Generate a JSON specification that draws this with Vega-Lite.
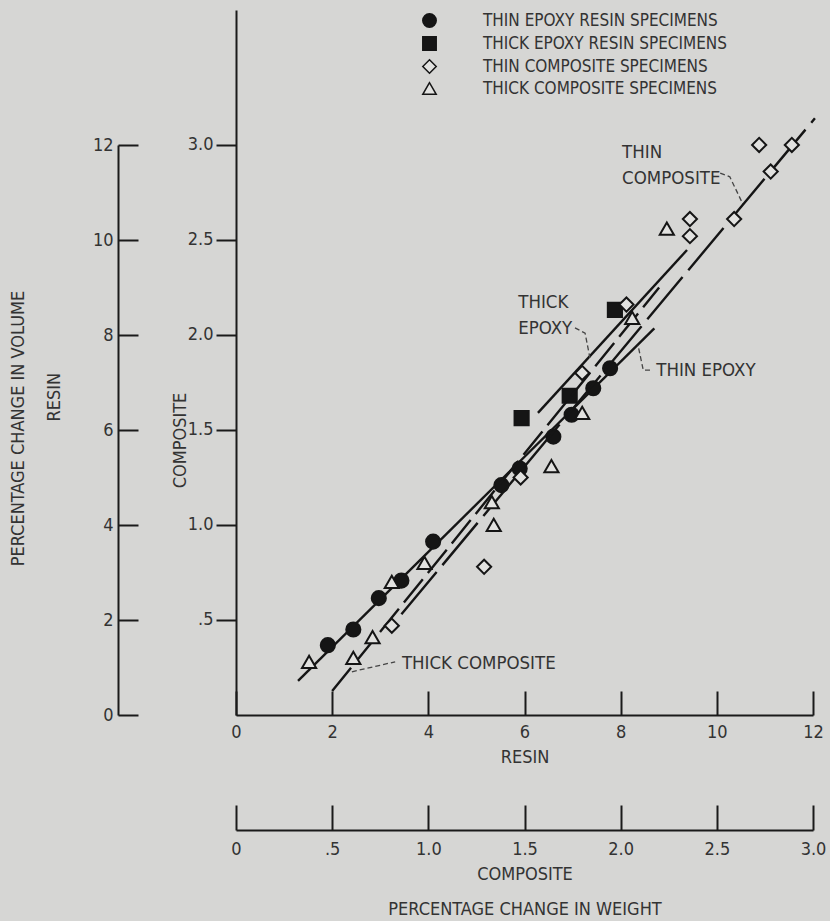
{
  "$schema": "https://vega.github.io/schema/vega-lite/v6.json",
  "width": 577,
  "height": 705,
  "autosize": {"type": "none"},
  "padding": {"left": 236, "top": 10, "right": 17, "bottom": 206},
  "background": "#d6d6d4",
  "config": {
    "font": "Liberation Sans Narrow, DejaVu Sans Condensed, sans-serif",
    "view": {"stroke": null},
    "axis": {
      "domainColor": "#1a1a1a", "domainWidth": 2, "tickColor": "#1a1a1a", "tickWidth": 2,
      "labelColor": "#333333", "titleColor": "#333333", "labelFontSize": 18, "titleFontSize": 18,
      "titleFontWeight": "normal", "grid": false, "labelOverlap": false, "labelFlush": false, "labelBound": false
    },
    "legend": {
      "labelFontSize": 17, "labelColor": "#333333", "symbolSize": 180, "labelOffset": 45,
      "rowPadding": 2, "padding": 0, "labelLimit": 400
    }
  },
  "datasets": {
    "resin": [
      {"series": "THIN EPOXY RESIN SPECIMENS", "x": 1.91, "y": 1.47},
      {"series": "THIN EPOXY RESIN SPECIMENS", "x": 2.44, "y": 1.80},
      {"series": "THIN EPOXY RESIN SPECIMENS", "x": 2.97, "y": 2.46},
      {"series": "THIN EPOXY RESIN SPECIMENS", "x": 3.44, "y": 2.83},
      {"series": "THIN EPOXY RESIN SPECIMENS", "x": 4.10, "y": 3.65},
      {"series": "THIN EPOXY RESIN SPECIMENS", "x": 5.52, "y": 4.84},
      {"series": "THIN EPOXY RESIN SPECIMENS", "x": 5.90, "y": 5.19},
      {"series": "THIN EPOXY RESIN SPECIMENS", "x": 6.60, "y": 5.86},
      {"series": "THIN EPOXY RESIN SPECIMENS", "x": 6.98, "y": 6.32},
      {"series": "THIN EPOXY RESIN SPECIMENS", "x": 7.43, "y": 6.88},
      {"series": "THIN EPOXY RESIN SPECIMENS", "x": 7.78, "y": 7.30},
      {"series": "THICK EPOXY RESIN SPECIMENS", "x": 5.94, "y": 6.25},
      {"series": "THICK EPOXY RESIN SPECIMENS", "x": 6.94, "y": 6.72},
      {"series": "THICK EPOXY RESIN SPECIMENS", "x": 7.88, "y": 8.53}
    ],
    "comp": [
      {"series": "THIN COMPOSITE SPECIMENS", "x": 0.81, "y": 0.47},
      {"series": "THIN COMPOSITE SPECIMENS", "x": 1.29, "y": 0.78},
      {"series": "THIN COMPOSITE SPECIMENS", "x": 1.48, "y": 1.25},
      {"series": "THIN COMPOSITE SPECIMENS", "x": 1.80, "y": 1.80},
      {"series": "THIN COMPOSITE SPECIMENS", "x": 2.03, "y": 2.16},
      {"series": "THIN COMPOSITE SPECIMENS", "x": 2.36, "y": 2.61},
      {"series": "THIN COMPOSITE SPECIMENS", "x": 2.36, "y": 2.52},
      {"series": "THIN COMPOSITE SPECIMENS", "x": 2.59, "y": 2.61},
      {"series": "THIN COMPOSITE SPECIMENS", "x": 2.72, "y": 3.00},
      {"series": "THIN COMPOSITE SPECIMENS", "x": 2.78, "y": 2.86},
      {"series": "THIN COMPOSITE SPECIMENS", "x": 2.89, "y": 3.00},
      {"series": "THICK COMPOSITE SPECIMENS", "x": 0.38, "y": 0.28},
      {"series": "THICK COMPOSITE SPECIMENS", "x": 0.61, "y": 0.30},
      {"series": "THICK COMPOSITE SPECIMENS", "x": 0.71, "y": 0.41},
      {"series": "THICK COMPOSITE SPECIMENS", "x": 0.81, "y": 0.70},
      {"series": "THICK COMPOSITE SPECIMENS", "x": 0.98, "y": 0.80},
      {"series": "THICK COMPOSITE SPECIMENS", "x": 1.33, "y": 1.12},
      {"series": "THICK COMPOSITE SPECIMENS", "x": 1.34, "y": 1.00},
      {"series": "THICK COMPOSITE SPECIMENS", "x": 1.64, "y": 1.31},
      {"series": "THICK COMPOSITE SPECIMENS", "x": 1.80, "y": 1.59},
      {"series": "THICK COMPOSITE SPECIMENS", "x": 2.06, "y": 2.09},
      {"series": "THICK COMPOSITE SPECIMENS", "x": 2.24, "y": 2.56}
    ],
    "resinLines": [
      {"line": "thin epoxy", "x": 1.29, "y": 0.72},
      {"line": "thin epoxy", "x": 8.70, "y": 8.14},
      {"line": "thick epoxy", "x": 6.28, "y": 6.36},
      {"line": "thick epoxy", "x": 9.38, "y": 9.79}
    ],
    "compThin": [
      {"x": 0.86, "y": 0.53},
      {"x": 3.01, "y": 3.14}
    ],
    "compThick": [
      {"x": 0.50, "y": 0.126},
      {"x": 2.20, "y": 2.25}
    ],
    "labels": [
      {"text": "THIN", "x": 8.03, "y": 11.85},
      {"text": "COMPOSITE", "x": 8.03, "y": 11.31},
      {"text": "THICK", "x": 5.87, "y": 8.69},
      {"text": "EPOXY", "x": 5.87, "y": 8.15},
      {"text": "THIN EPOXY", "x": 8.74, "y": 7.26},
      {"text": "THICK COMPOSITE", "x": 3.45, "y": 1.09}
    ],
    "sideTitle": [
      {"text": "RESIN", "x": -3.76, "y": 6.69}
    ],
    "leaders": [
      {"leader": "thin composite", "order": 1, "x": 10.07, "y": 11.41},
      {"leader": "thin composite", "order": 2, "x": 10.27, "y": 11.33},
      {"leader": "thin composite", "order": 3, "x": 10.54, "y": 10.76},
      {"leader": "thick epoxy", "order": 1, "x": 7.05, "y": 8.15},
      {"leader": "thick epoxy", "order": 2, "x": 7.26, "y": 8.04},
      {"leader": "thick epoxy", "order": 3, "x": 7.36, "y": 7.52},
      {"leader": "thin epoxy", "order": 1, "x": 8.61, "y": 7.26},
      {"leader": "thin epoxy", "order": 2, "x": 8.47, "y": 7.26},
      {"leader": "thin epoxy", "order": 3, "x": 8.36, "y": 7.79},
      {"leader": "thick composite", "order": 1, "x": 2.41, "y": 0.91},
      {"leader": "thick composite", "order": 2, "x": 3.31, "y": 1.12}
    ]
  },
  "layer": [
    {
      "layer": [
        {
          "data": {"name": "resinLines"},
          "mark": {"type": "line", "color": "#151515", "strokeWidth": 2.4},
          "encoding": {
            "x": {"field": "x", "type": "quantitative",
              "scale": {"domain": [0, 12], "nice": false, "zero": false},
              "axis": {"orient": "bottom", "values": [0, 2, 4, 6, 8, 10, 12], "format": "d", "tickSize": -24, "labelPadding": 32,
                "title": "RESIN", "titlePadding": 7}},
            "y": {"field": "y", "type": "quantitative",
              "scale": {"domain": [0, 12], "range": [705, 135], "nice": false, "zero": false},
              "axis": {"orient": "left", "offset": 118, "values": [0, 2, 4, 6, 8, 10, 12], "format": "d", "tickSize": -20, "labelPadding": 25,
                "title": "PERCENTAGE CHANGE IN VOLUME", "titleX": -91, "titleY": 418}},
            "detail": {"field": "line"}
          }
        },
        {
          "data": {"name": "leaders"},
          "mark": {"type": "line", "color": "#444444", "strokeWidth": 1.3, "strokeDash": [5, 3]},
          "encoding": {
            "x": {"field": "x", "type": "quantitative"},
            "y": {"field": "y", "type": "quantitative"},
            "detail": {"field": "leader"},
            "order": {"field": "order"}
          }
        },
        {
          "data": {"name": "labels"},
          "mark": {"type": "text", "align": "left", "baseline": "middle", "fontSize": 18.5, "color": "#333333"},
          "encoding": {
            "x": {"field": "x", "type": "quantitative"},
            "y": {"field": "y", "type": "quantitative"},
            "text": {"field": "text"}
          }
        },
        {
          "data": {"name": "sideTitle"},
          "mark": {"type": "text", "align": "center", "baseline": "middle", "angle": 270, "fontSize": 18, "color": "#333333"},
          "encoding": {
            "x": {"field": "x", "type": "quantitative"},
            "y": {"field": "y", "type": "quantitative"},
            "text": {"field": "text"}
          }
        },
        {
          "data": {"name": "resin"},
          "mark": {"type": "point", "stroke": "#151515", "strokeWidth": 2, "opacity": 1, "size": 200},
          "encoding": {
            "x": {"field": "x", "type": "quantitative"},
            "y": {"field": "y", "type": "quantitative"},
            "shape": {"field": "series", "type": "nominal",
              "scale": {"domain": ["THIN EPOXY RESIN SPECIMENS", "THICK EPOXY RESIN SPECIMENS", "THIN COMPOSITE SPECIMENS", "THICK COMPOSITE SPECIMENS"],
                "range": ["circle", "square", "diamond", "triangle-up"]},
              "legend": {"title": null, "orient": "none", "legendX": 185, "legendY": 2,
                "encode": {"symbols": {"update": {"stroke": {"value": "#151515"}, "strokeWidth": {"value": 2}}}}}},
            "fill": {"field": "series", "type": "nominal",
              "scale": {"domain": ["THIN EPOXY RESIN SPECIMENS", "THICK EPOXY RESIN SPECIMENS", "THIN COMPOSITE SPECIMENS", "THICK COMPOSITE SPECIMENS"],
                "range": ["#151515", "#151515", "#e2e2e0", "#e2e2e0"]},
              "legend": {"title": null, "orient": "none", "legendX": 185, "legendY": 2,
                "encode": {"symbols": {"update": {"stroke": {"value": "#151515"}, "strokeWidth": {"value": 2}}}}}}
          }
        }
      ]
    },
    {
      "layer": [
        {
          "data": {"name": "compThin"},
          "mark": {"type": "line", "color": "#151515", "strokeWidth": 2.4, "strokeDash": [55, 9]},
          "encoding": {
            "x": {"field": "x", "type": "quantitative",
              "scale": {"domain": [0, 3], "nice": false, "zero": false},
              "axis": {"orient": "bottom", "offset": 115, "values": [0, 0.5, 1, 1.5, 2, 2.5, 3],
                "labelExpr": "datum.value == 0 ? '0' : datum.value == 0.5 ? '.5' : format(datum.value, '.1f')",
                "tickSize": -25, "labelPadding": 35,
                "title": ["COMPOSITE", "PERCENTAGE CHANGE IN WEIGHT"], "titleLineHeight": 35, "titlePadding": 7}},
            "y": {"field": "y", "type": "quantitative",
              "scale": {"domain": [0, 3.71], "nice": false, "zero": false},
              "axis": {"orient": "left", "values": [0.5, 1, 1.5, 2, 2.5, 3],
                "labelExpr": "datum.value == 0.5 ? '.5' : format(datum.value, '.1f')",
                "tickSize": 20, "labelPadding": 3, "title": "COMPOSITE", "titleX": -47, "titleY": 430}}
          }
        },
        {
          "data": {"name": "compThick"},
          "mark": {"type": "line", "color": "#151515", "strokeWidth": 2.4, "strokeDash": [30, 8]},
          "encoding": {
            "x": {"field": "x", "type": "quantitative"},
            "y": {"field": "y", "type": "quantitative"}
          }
        },
        {
          "data": {"name": "comp"},
          "mark": {"type": "point", "stroke": "#151515", "strokeWidth": 2, "opacity": 1, "size": 200},
          "encoding": {
            "x": {"field": "x", "type": "quantitative"},
            "y": {"field": "y", "type": "quantitative"},
            "shape": {"field": "series", "type": "nominal"},
            "fill": {"field": "series", "type": "nominal"}
          }
        }
      ]
    }
  ],
  "resolve": {
    "scale": {"x": "independent", "y": "independent"},
    "axis": {"x": "independent", "y": "independent"}
  }
}
